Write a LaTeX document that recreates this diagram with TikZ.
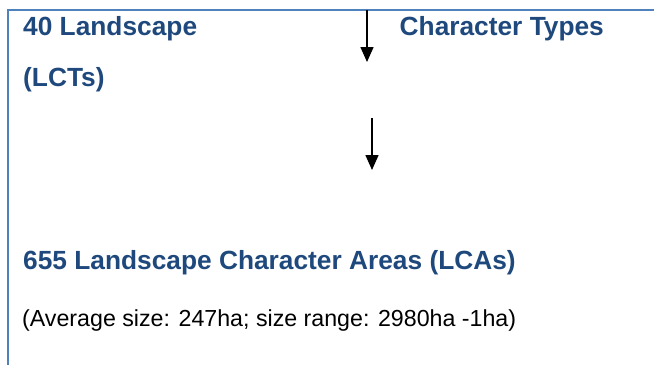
\documentclass[tikz,border=0pt]{standalone}
\usepackage{fontspec}
\setmainfont{Liberation Sans}
\newfontfamily\boldfam{Liberation Sans}
\newfontfamily\regfam{Liberation Sans}
\usetikzlibrary{arrows.meta}
\definecolor{rulecol}{HTML}{4F81BD}
\definecolor{headcol}{HTML}{1F497D}
\tikzset{
  rule/.style={draw=rulecol, line width=2bp},
  heading/.style={inner sep=0pt, anchor=base west, text=headcol, font=\boldfam\bfseries\fontsize{26.3bp}{30bp}\selectfont},
  plain/.style={inner sep=0pt, anchor=base west, text=black, font=\regfam\fontsize{23.2bp}{27bp}\selectfont},
  flow/.style={draw=black, line width=1.5bp, -{Triangle[width=13bp,length=15bp]}}
}
\begin{document}
\begin{tikzpicture}[x=1bp, y=-1bp]
\useasboundingbox (0,0) rectangle (654,365);
% frame lines
\coordinate (tl) at (8,10);
\coordinate (tr) at (654,10);
\coordinate (bl) at (8,365);
\draw[rule] (tr) -- (tl) -- (bl);
% texts
\node[heading] (lct1) at (23,35) {40 Landscape};
\node[heading] (lct2) at (399.5,35) {Character Types};
\node[heading] (lct3) at (23,86) {(LCTs)};
\node[heading] (lca) at (23,269) {655 Landscape Character Areas (LCAs)};
\node[plain] (avg) at (22,326) {(Average size: 247ha; size range: 2980ha -1ha)};
% arrows
\coordinate (a1s) at (367,10);
\coordinate (a1e) at (367,62);
\coordinate (a2s) at (372,118);
\coordinate (a2e) at (372,170);
\draw[flow] (a1s) -- (a1e);
\draw[flow] (a2s) -- (a2e);
\end{tikzpicture}
\end{document}
